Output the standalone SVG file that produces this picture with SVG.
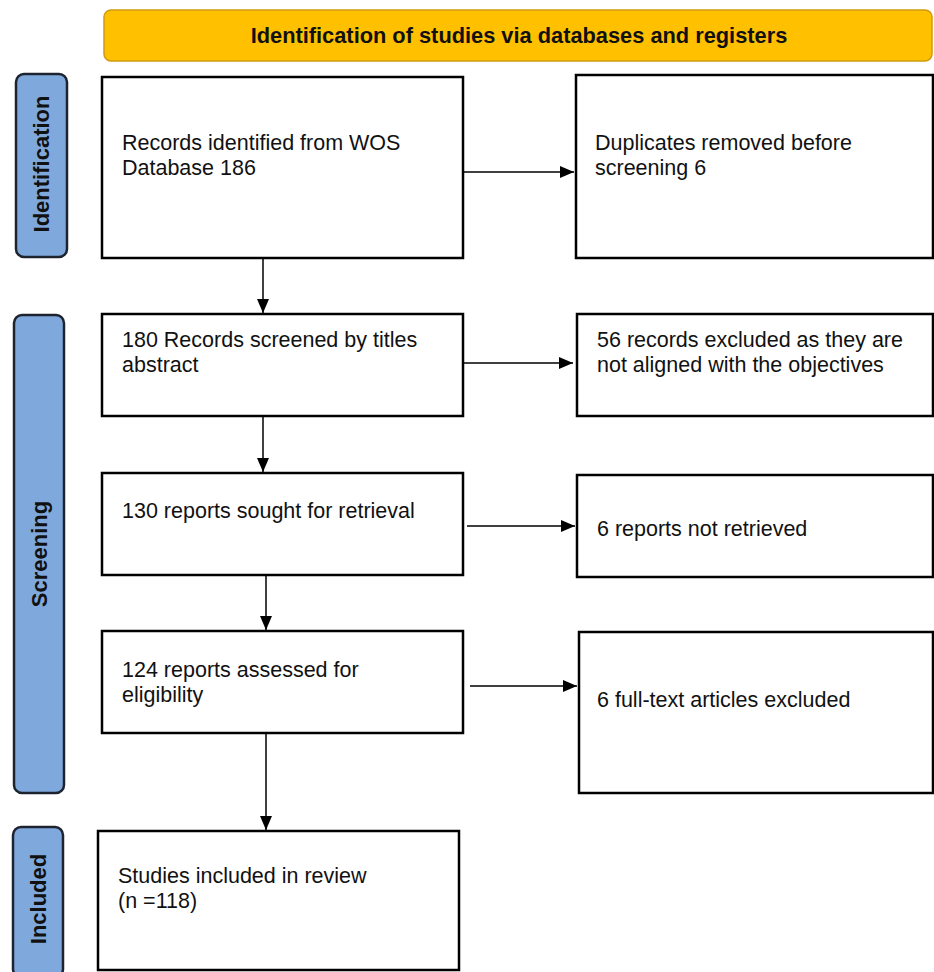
<svg xmlns="http://www.w3.org/2000/svg" width="934" height="972" viewBox="0 0 934 972">
<style>
.box{fill:#fff;stroke:#000;stroke-width:2.5}
.side{fill:#7FA9DD;stroke:#1d2430;stroke-width:2.5}
.t{font-family:"Liberation Sans",Arial,sans-serif;font-size:21.5px;fill:#111}
.st{font-family:"Liberation Sans",Arial,sans-serif;font-size:22px;font-weight:bold;fill:#111;text-anchor:middle}
.c{stroke:#000;stroke-width:1.5;fill:none;marker-end:url(#ah)}
</style>
<defs>
<marker id="ah" markerWidth="14" markerHeight="12" refX="14" refY="6" orient="auto" markerUnits="userSpaceOnUse">
<path d="M0,0 L14,6 L0,12 Z" fill="#000"/>
</marker>
</defs>
<rect width="934" height="972" fill="#fff"/>
<g id="header">
<rect x="104" y="10" width="828" height="51" rx="7" fill="#FFC000" stroke="#D09A10" stroke-width="1.5"/>
<text x="519" y="43" style="font-family:'Liberation Sans',Arial,sans-serif;font-size:21.8px;font-weight:bold;fill:#111;text-anchor:middle">Identification of studies via databases and registers</text>
</g>
<g id="lbl-identification">
<rect class="side" x="16" y="74" width="51" height="183" rx="8"/>
<text class="st" transform="translate(49,164) rotate(-90)">Identification</text>
</g>
<g id="lbl-screening">
<rect class="side" x="14" y="315" width="50" height="478" rx="8"/>
<text class="st" transform="translate(47,554) rotate(-90)">Screening</text>
</g>
<g id="lbl-included">
<rect class="side" x="13" y="827" width="50" height="150" rx="8"/>
<text class="st" transform="translate(46,899) rotate(-90)">Included</text>
</g>
<g id="n1">
<rect class="box" x="102" y="77" width="361" height="181"/>
<text class="t" x="122" y="150">Records identified from WOS</text>
<text class="t" x="122" y="175">Database 186</text>
</g>
<g id="n2">
<rect class="box" x="576" y="75" width="357" height="183"/>
<text class="t" x="595" y="150">Duplicates removed before</text>
<text class="t" x="595" y="175">screening 6</text>
</g>
<g id="n3">
<rect class="box" x="102" y="314" width="361" height="102"/>
<text class="t" x="122" y="347">180 Records screened by titles</text>
<text class="t" x="122" y="372">abstract</text>
</g>
<g id="n4">
<rect class="box" x="577" y="314" width="356" height="102"/>
<text class="t" x="597" y="347">56 records excluded as they are</text>
<text class="t" x="597" y="372">not aligned with the objectives</text>
</g>
<g id="n5">
<rect class="box" x="102" y="473" width="361" height="102"/>
<text class="t" x="122" y="518">130 reports sought for retrieval</text>
</g>
<g id="n6">
<rect class="box" x="577" y="475" width="356" height="102"/>
<text class="t" x="597" y="536">6 reports not retrieved</text>
</g>
<g id="n7">
<rect class="box" x="102" y="631" width="361" height="102"/>
<text class="t" x="122" y="677">124 reports assessed for</text>
<text class="t" x="122" y="702">eligibility</text>
</g>
<g id="n8">
<rect class="box" x="579" y="632" width="354" height="161"/>
<text class="t" x="597" y="707">6 full-text articles excluded</text>
</g>
<g id="n9">
<rect class="box" x="98" y="831" width="361" height="139"/>
<text class="t" x="118" y="883">Studies included in review</text>
<text class="t" x="118" y="908">(n =118)</text>
</g>
<g id="connectors">
<line class="c" x1="463" y1="172" x2="574" y2="172"/>
<line class="c" x1="263" y1="258" x2="263" y2="313"/>
<line class="c" x1="463" y1="363" x2="573" y2="363"/>
<line class="c" x1="263" y1="416" x2="263" y2="472"/>
<line class="c" x1="467" y1="526" x2="575" y2="526"/>
<line class="c" x1="266" y1="575" x2="266" y2="630"/>
<line class="c" x1="470" y1="686" x2="577" y2="686"/>
<line class="c" x1="266" y1="733" x2="266" y2="830"/>
</g>
</svg>
